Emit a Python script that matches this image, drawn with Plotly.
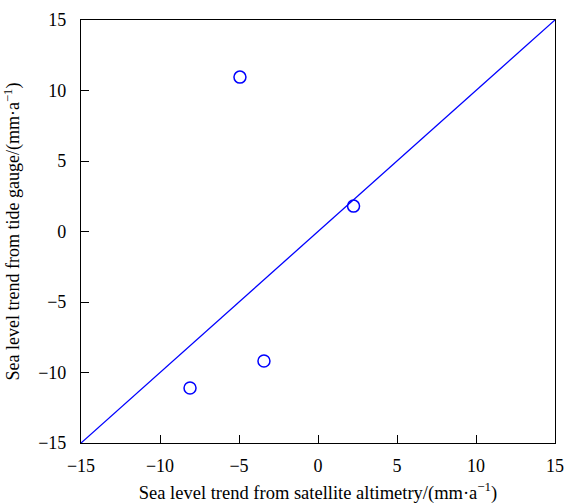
import plotly.graph_objects as go

sat_trend = [-4.94, 2.25, -3.42, -8.1]
gauge_trend = [10.95, 1.8, -9.18, -11.1]
line_x = [-15, 15]
line_y = [-15, 15]
tick_vals = [-15, -10, -5, 0, 5, 10, 15]

fig = go.Figure()
fig.add_trace(go.Scatter(x=line_x, y=line_y, mode="lines",
                         line=dict(color="#0000ff", width=1.3), showlegend=False))
fig.add_trace(go.Scatter(x=sat_trend, y=gauge_trend, mode="markers",
                         marker=dict(symbol="circle-open", size=12, color="#0000ff",
                                     line=dict(width=1.5, color="#0000ff")),
                         showlegend=False))

font = dict(family="Liberation Serif", color="black")
axis_common = dict(range=[-15, 15], tickvals=tick_vals, ticks="inside", ticklen=8,
                   tickwidth=1, tickcolor="black", showline=True, linecolor="black",
                   linewidth=1.2, mirror=True, showgrid=False, zeroline=False,
                   automargin=False, tickfont=dict(size=18, **font))
fig.update_xaxes(**axis_common, ticklabelstandoff=6,
                 title=dict(text="Sea level trend from satellite altimetry/(mm·a<sup>−1</sup>)",
                            font=dict(size=18.5, **font), standoff=14))
fig.update_yaxes(**axis_common, ticklabelstandoff=10,
                 title=dict(text="Sea level trend from tide gauge/(mm·a<sup>−1</sup>)",
                            font=dict(size=18, **font), standoff=13))
fig.update_layout(width=565, height=504, margin=dict(l=81, r=10, t=20, b=61),
                  plot_bgcolor="white", paper_bgcolor="white", font=font)
fig.write_html("out.html", config={"displayModeBar": False},
               post_script="document.body.style.margin='0';document.body.style.overflow='hidden';")
